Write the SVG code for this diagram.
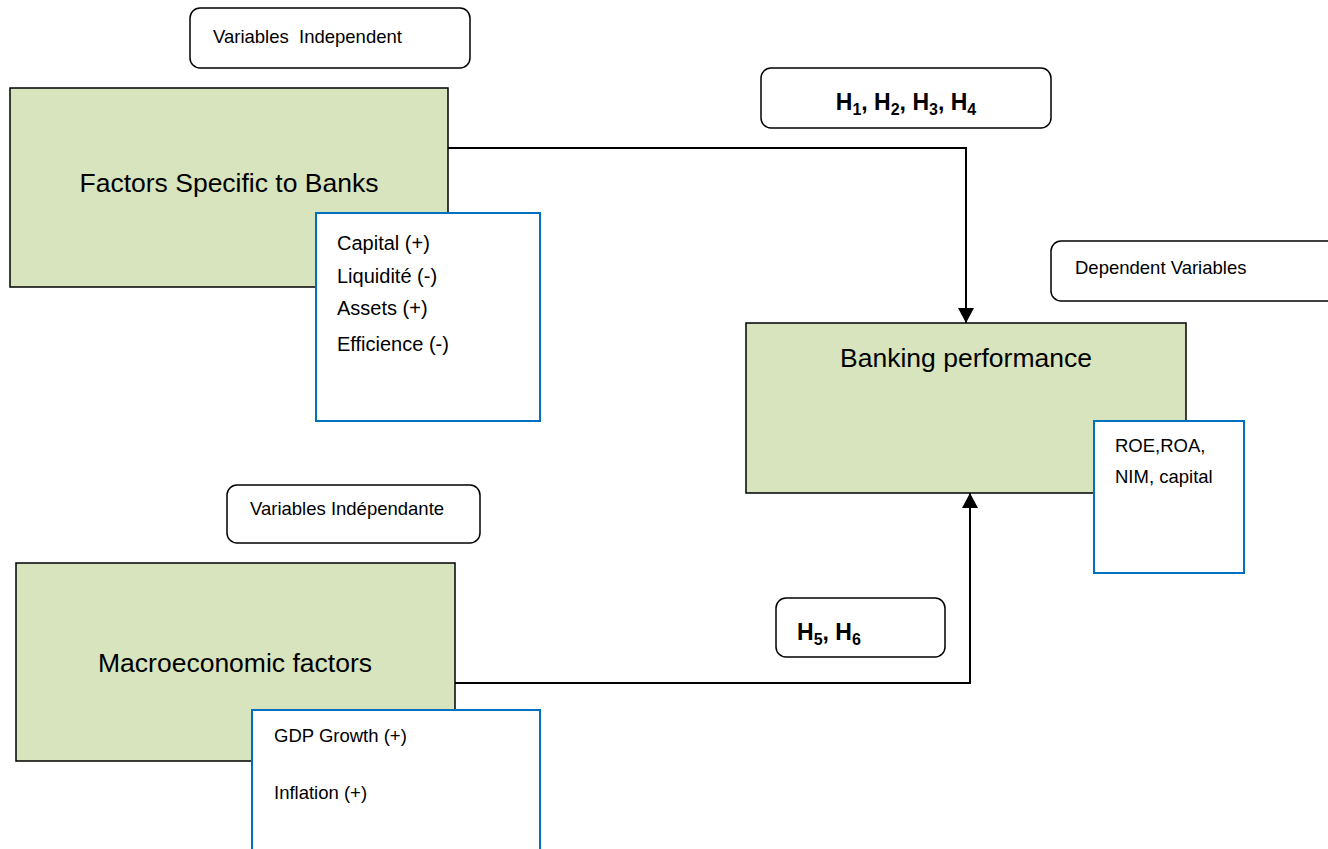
<svg xmlns="http://www.w3.org/2000/svg" width="1328" height="849" viewBox="0 0 1328 849">
<defs>
<style>
text{font-family:"Liberation Sans",Arial,sans-serif;fill:#000;white-space:pre}
.lbl{fill:#fff;stroke:#000;stroke-width:1.5}
.main{fill:#d7e4bd;stroke:#000;stroke-width:1.5}
.list{fill:#fff;stroke:#0070c0;stroke-width:2}
.title{font-size:26.5px}
.item{font-size:20px}
.small{font-size:18.5px}
.hb{font-size:23px;font-weight:bold}
.sub{font-size:16px}
.conn{fill:none;stroke:#000;stroke-width:2}
</style>
<marker id="arr" markerWidth="15" markerHeight="16" refX="15" refY="8" orient="auto" markerUnits="userSpaceOnUse" viewBox="0 0 15 16">
<path d="M0,0 L15,8 L0,16 z" fill="#000"/>
</marker>
</defs>
<rect width="1328" height="849" fill="#fff"/>

<g id="connectors">
<polyline class="conn" points="448,148 966,148 966,323" marker-end="url(#arr)"/>
<polyline class="conn" points="455,683 970,683 970,493" marker-end="url(#arr)"/>
</g>

<g id="lbl-indep1">
<rect class="lbl" x="190" y="8" width="280" height="60" rx="10"/>
<text class="small" x="213" y="43" xml:space="preserve">Variables  Independent</text>
</g>

<g id="bank-factors">
<rect class="main" x="10" y="88" width="438" height="199"/>
<text class="title" x="229" y="192" text-anchor="middle">Factors Specific to Banks</text>
</g>

<g id="bank-list">
<rect class="list" x="316" y="213" width="224" height="208"/>
<text class="item" x="337" y="250">Capital (+)</text>
<text class="item" x="337" y="283">Liquidité (-)</text>
<text class="item" x="337" y="315">Assets (+)</text>
<text class="item" x="337" y="351">Efficience (-)</text>
</g>

<g id="hyp1">
<rect class="lbl" x="761" y="68" width="290" height="60" rx="10"/>
<text class="hb" x="906" y="110" text-anchor="middle">H<tspan class="sub" dy="5">1</tspan><tspan dy="-5">, H</tspan><tspan class="sub" dy="5">2</tspan><tspan dy="-5">, H</tspan><tspan class="sub" dy="5">3</tspan><tspan dy="-5">, H</tspan><tspan class="sub" dy="5">4</tspan></text>
</g>

<g id="lbl-dep">
<rect class="lbl" x="1051" y="241" width="290" height="60" rx="10"/>
<text class="small" x="1075" y="274">Dependent Variables</text>
</g>

<g id="performance">
<rect class="main" x="746" y="323" width="440" height="170"/>
<text class="title" x="966" y="367" text-anchor="middle">Banking performance</text>
</g>

<g id="perf-list">
<rect class="list" x="1094" y="421" width="150" height="152"/>
<text class="small" x="1115" y="452">ROE,ROA,</text>
<text class="small" x="1115" y="483">NIM, capital</text>
</g>

<g id="lbl-indep2">
<rect class="lbl" x="227" y="485" width="253" height="58" rx="10"/>
<text class="small" x="250" y="515">Variables Indépendante</text>
</g>

<g id="macro">
<rect class="main" x="16" y="563" width="439" height="198"/>
<text class="title" x="235" y="672" text-anchor="middle">Macroeconomic factors</text>
</g>

<g id="macro-list">
<rect class="list" x="252" y="710" width="288" height="150"/>
<text class="small" x="274" y="742">GDP Growth (+)</text>
<text class="small" x="274" y="799">Inflation (+)</text>
</g>

<g id="hyp2">
<rect class="lbl" x="776" y="598" width="169" height="59" rx="10"/>
<text class="hb" x="797" y="640">H<tspan class="sub" dy="5">5</tspan><tspan dy="-5">, H</tspan><tspan class="sub" dy="5">6</tspan></text>
</g>
</svg>
